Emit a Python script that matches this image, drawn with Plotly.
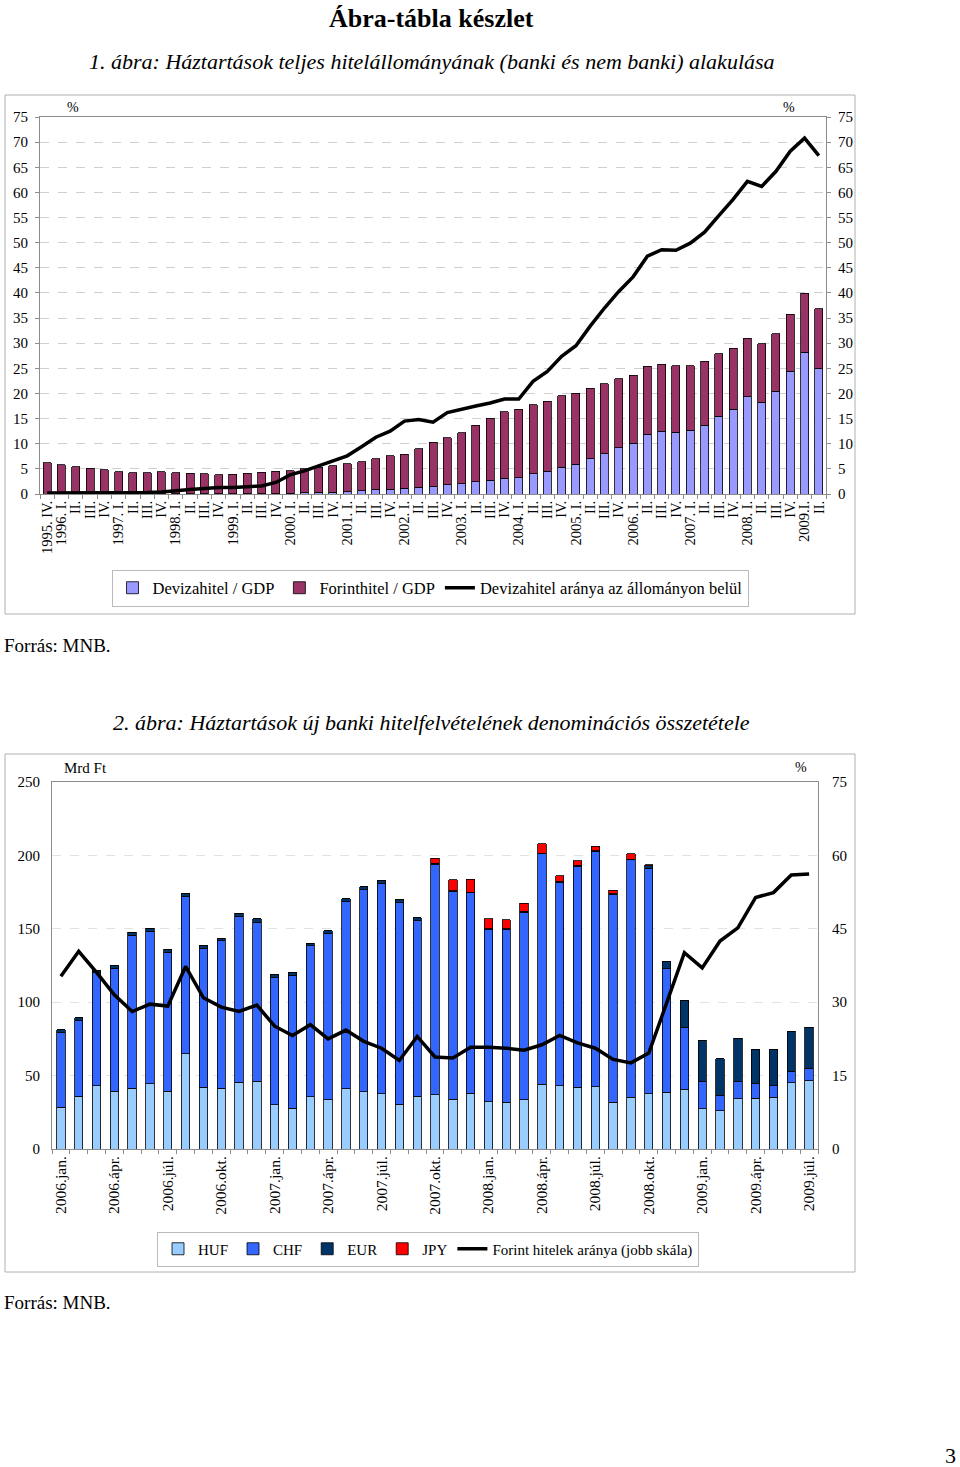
import plotly.graph_objects as go

# ---------------- DATA: chart 1 (quarterly, % of GDP) ----------------
top_labels = ["1995. IV.",
              "1996. I.", "II.", "III.", "IV.",
              "1997. I.", "II.", "III.", "IV.",
              "1998. I.", "II.", "III.", "IV.",
              "1999. I.", "II.", "III.", "IV.",
              "2000. I.", "II.", "III.", "IV.",
              "2001. I.", "II.", "III.", "IV.",
              "2002. I.", "II.", "III.", "IV.",
              "2003. I.", "II.", "III.", "IV.",
              "2004. I.", "II.", "III.", "IV.",
              "2005. I.", "II.", "III.", "IV.",
              "2006. I.", "II.", "III.", "IV.",
              "2007. I.", "II.", "III.", "IV.",
              "2008. I.", "II.", "III.", "IV.",
              "2009.I.", "II."]
top_keys = ["q%02d" % i for i in range(len(top_labels))]

deviza_gdp = [0.0, 0.0, 0.0, 0.0, 0.0,
              0.0, 0.0, 0.0, 0.02,
              0.03, 0.04, 0.05, 0.05,
              0.05, 0.06, 0.07, 0.1,
              0.17, 0.23, 0.3, 0.38,
              0.45, 0.6, 0.8, 0.95,
              1.15, 1.3, 1.45, 1.8,
              2.05, 2.4, 2.7, 3.1,
              3.2, 4.0, 4.5, 5.3,
              5.9, 7.0, 8.0, 9.2,
              10.1, 11.9, 12.5, 12.3,
              12.7, 13.7, 15.5, 16.9,
              19.3, 18.3, 20.4, 24.4,
              28.2, 24.9]
forint_gdp = [6.2, 5.8, 5.4, 5.1, 4.8,
              4.4, 4.2, 4.2, 4.38,
              4.17, 4.06, 3.95, 3.75,
              3.85, 4.04, 4.23, 4.4,
              4.43, 4.77, 5.0, 5.22,
              5.55, 5.8, 6.2, 6.65,
              6.75, 7.7, 8.85, 9.4,
              10.15, 11.3, 12.4, 13.3,
              13.7, 13.8, 14.0, 14.2,
              14.1, 14.0, 13.9, 13.7,
              13.5, 13.5, 13.3, 13.2,
              12.8, 12.7, 12.4, 12.1,
              11.7, 11.6, 11.5, 11.4,
              11.7, 12.0]
deviza_share = [0.2, 0.2, 0.2, 0.2, 0.2,
                0.2, 0.2, 0.3, 0.4,
                0.7, 0.9, 1.1, 1.3,
                1.3, 1.4, 1.6, 2.3,
                3.8, 4.6, 5.6, 6.7,
                7.6, 9.4, 11.3, 12.5,
                14.5, 14.8, 14.3, 16.2,
                16.9, 17.5, 18.1, 18.9,
                18.9, 22.4, 24.4, 27.4,
                29.5, 33.4, 37.0, 40.3,
                43.2, 47.3, 48.6, 48.5,
                49.9, 52.1, 55.4, 58.6,
                62.2, 61.2, 64.2, 68.2,
                70.8, 67.3]

# ---------------- DATA: chart 2 (monthly, Mrd Ft) ----------------
months = ["jan.", "febr.", "márc.", "ápr.", "máj.", "jún.",
          "júl.", "aug.", "szept.", "okt.", "nov.", "dec."]
bot_keys = ["%d.%s" % (y, m) for y in (2006, 2007, 2008) for m in months] + \
           ["2009.%s" % m for m in months[:7]]
bot_ticktext = [k if i % 3 == 0 else "" for i, k in enumerate(bot_keys)]

huf = [28.6, 35.9, 43.1, 39.3, 41.3, 44.3, 39.5, 64.9, 42.2, 41.3, 45.4, 46.1,
       30.0, 27.7, 35.6, 33.4, 41.1, 39.1, 37.5, 30.4, 35.9, 37.0, 33.8, 37.9,
       32.2, 31.8, 33.6, 44.1, 43.1, 42.0, 42.5, 31.8, 35.4, 37.7, 38.8, 40.4,
       27.5, 25.9, 34.1, 34.7, 35.4, 45.0, 46.5]
chf = [50.6, 51.5, 76.8, 83.8, 104.3, 104.0, 94.5, 107.0, 94.7, 100.6, 113.3, 108.5,
       86.7, 90.6, 102.7, 113.3, 127.2, 137.6, 143.2, 137.4, 119.6, 156.5, 141.5, 136.5,
       117.0, 117.4, 127.8, 156.9, 138.6, 150.6, 160.0, 141.5, 161.5, 153.3, 84.3, 42.7,
       18.6, 10.7, 11.8, 9.8, 7.7, 8.1, 8.2]
eur = [2.1, 2.1, 1.6, 2.0, 2.0, 2.0, 2.0, 2.0, 1.8, 1.8, 1.8, 2.1,
       2.1, 2.0, 2.0, 2.0, 2.2, 2.0, 1.9, 2.0, 2.1, 1.3, 0.7, 0.4,
       0.7, 0.7, 0.7, 0.6, 0.6, 0.6, 0.7, 0.6, 0.6, 2.0, 4.3, 17.9,
       28.1, 24.9, 29.5, 23.4, 24.6, 27.1, 28.2]
jpy = [0, 0, 0, 0, 0, 0, 0, 0, 0, 0, 0, 0,
       0, 0, 0, 0, 0, 0, 0, 0, 0, 3.2, 7.5, 9.1,
       6.8, 6.1, 5.2, 6.2, 3.9, 3.0, 3.0, 2.3, 3.7, 0.7, 0, 0,
       0, 0, 0, 0, 0, 0, 0]
forint_share = [35.3, 40.4, 36.1, 31.5, 28.1, 29.6, 29.2, 37.3, 30.9, 29.0, 28.1, 29.4,
                25.1, 23.2, 25.4, 22.5, 24.3, 22.0, 20.6, 18.1, 23.0, 18.8, 18.6, 20.8,
                20.8, 20.6, 20.2, 21.3, 23.2, 21.7, 20.6, 18.3, 17.6, 19.6, 29.8, 40.1,
                37.0, 42.5, 45.2, 51.4, 52.4, 56.0, 56.2]

# ---------------- FIGURE ----------------
W, H = 960, 1467
def px(x):
    return x / W
def py(y):
    return 1 - y / H

FONT = "Liberation Serif"
GRID = "#D0D0D0"
AX = "#8C8C8C"

fig = go.Figure()

bar_line = dict(color="black", width=0.8)
fig.add_trace(go.Bar(x=top_keys, y=deviza_gdp, name="Devizahitel / GDP", width=0.56,
                     marker=dict(color="#9999FF", line=bar_line),
                     xaxis="x", yaxis="y", legend="legend"))
fig.add_trace(go.Bar(x=top_keys, y=forint_gdp, name="Forinthitel / GDP", width=0.56,
                     marker=dict(color="#993366", line=bar_line),
                     xaxis="x", yaxis="y", legend="legend"))
fig.add_trace(go.Scatter(x=top_keys, y=deviza_share, mode="lines",
                         name="Devizahitel aránya az állományon belül",
                         line=dict(color="black", width=3.5),
                         xaxis="x", yaxis="y3", legend="legend"))

fig.add_trace(go.Bar(x=bot_keys, y=huf, name="HUF", width=0.47,
                     marker=dict(color="#99CCFF", line=bar_line),
                     xaxis="x2", yaxis="y2", legend="legend2"))
fig.add_trace(go.Bar(x=bot_keys, y=chf, name="CHF", width=0.47,
                     marker=dict(color="#3366FF", line=bar_line),
                     xaxis="x2", yaxis="y2", legend="legend2"))
fig.add_trace(go.Bar(x=bot_keys, y=eur, name="EUR", width=0.47,
                     marker=dict(color="#003366", line=bar_line),
                     xaxis="x2", yaxis="y2", legend="legend2"))
fig.add_trace(go.Bar(x=bot_keys, y=jpy, name="JPY", width=0.47,
                     marker=dict(color="#FF0000", line=bar_line),
                     xaxis="x2", yaxis="y2", legend="legend2"))
fig.add_trace(go.Scatter(x=bot_keys, y=forint_share, mode="lines",
                         name="Forint hitelek aránya (jobb skála)",
                         line=dict(color="black", width=3.5),
                         xaxis="x2", yaxis="y4", legend="legend2"))

tickfont = dict(family=FONT, size=15, color="black")
xfont = dict(family=FONT, size=14.5, color="black")
xfont2 = dict(family=FONT, size=15.5, color="black")

fig.update_layout(
    width=W, height=H,
    margin=dict(l=0, r=0, t=0, b=0, autoexpand=False),
    paper_bgcolor="white", plot_bgcolor="white",
    barmode="stack",
    showlegend=True,
    font=dict(family=FONT, color="black"),
    xaxis=dict(domain=[px(40), px(826)], anchor="y", type="category",
               tickmode="array", tickvals=top_keys, ticktext=top_labels,
               tickangle=-90, tickson="boundaries", ticks="outside", ticklen=4,
               tickcolor=AX, showline=True, linecolor=AX, mirror=True,
               showgrid=False, tickfont=xfont, automargin=False),
    yaxis=dict(domain=[py(494), py(117)], anchor="x", range=[0, 75], dtick=5,
               showgrid=True, gridcolor=GRID, griddash="dash", zeroline=False,
               showline=True, linecolor=AX, ticks="outside", ticklen=4, tickcolor=AX,
               tickfont=tickfont, ticklabelstandoff=4, automargin=False),
    yaxis3=dict(overlaying="y", side="right", anchor="x", range=[0, 75], dtick=5,
                showgrid=False, zeroline=False, showline=True, linecolor=AX,
                ticks="outside", ticklen=4, tickcolor=AX, tickfont=tickfont,
                ticklabelstandoff=4, automargin=False),
    xaxis2=dict(domain=[px(52), px(818)], anchor="y2", type="category",
                tickmode="array", tickvals=bot_keys, ticktext=bot_ticktext,
                tickangle=-90, tickson="boundaries", ticks="outside", ticklen=4,
                tickcolor=AX, showline=True, linecolor=AX, mirror=True,
                showgrid=False, tickfont=xfont2, automargin=False),
    yaxis2=dict(domain=[py(1149), py(782)], anchor="x2", range=[0, 250], dtick=50,
                showgrid=True, gridcolor="#E2E2E2", griddash="dash", zeroline=False,
                showline=True, linecolor=AX, ticks="", tickfont=tickfont,
                ticklabelstandoff=8, automargin=False),
    yaxis4=dict(overlaying="y2", side="right", anchor="x2", range=[0, 75], dtick=15,
                showgrid=False, zeroline=False, showline=True, linecolor=AX,
                ticks="", tickfont=tickfont, ticklabelstandoff=10, automargin=False),
    legend=dict(x=px(430), y=py(588), xanchor="center", yanchor="middle",
                orientation="h", bordercolor="#BBBBBB", borderwidth=1,
                bgcolor="white", font=dict(family=FONT, size=16.5, color="black"),
                itemwidth=30, tracegroupgap=0, traceorder="normal"),
    legend2=dict(x=px(428), y=py(1249), xanchor="center", yanchor="middle",
                 orientation="h", bordercolor="#BBBBBB", borderwidth=1,
                 bgcolor="white", font=dict(family=FONT, size=15, color="black"),
                 itemwidth=30, tracegroupgap=0, traceorder="normal"),
)

# chart frames
for (x0, y0, x1, y1) in [(5, 95, 855, 614), (5, 754, 855, 1272)]:
    fig.add_shape(type="rect", xref="paper", yref="paper",
                  x0=px(x0), x1=px(x1), y0=py(y1), y1=py(y0),
                  line=dict(color="#B0B0B0", width=1), fillcolor="rgba(0,0,0,0)",
                  layer="below")

def note(text, x, y, size, xanchor="center", **kw):
    fig.add_annotation(text=text, x=px(x), y=py(y), xref="paper", yref="paper",
                       showarrow=False, xanchor=xanchor, yanchor="middle",
                       font=dict(family=FONT, size=size, color="black"), **kw)

note("<b>Ábra-tábla készlet</b>", 431, 18, 26)
note("<i>1. ábra: Háztartások teljes hitelállományának (banki és nem banki) alakulása</i>", 432, 62, 22)
note("%", 73, 107, 14)
note("%", 789, 107, 14)
note("Forrás: MNB.", 2, 645, 19, xanchor="left")
note("<i>2. ábra: Háztartások új banki hitelfelvételének denominációs összetétele</i>", 431, 722, 22)
note("Mrd Ft", 85, 768, 15)
note("%", 801, 767, 14)
note("Forrás: MNB.", 2, 1302, 19, xanchor="left")
note("3", 950, 1455, 22)

fig.write_html("out.html",
               config={"displayModeBar": False},
               post_script="document.body.style.margin='0';"
                           "document.body.style.padding='0';"
                           "document.body.style.overflow='hidden';")
